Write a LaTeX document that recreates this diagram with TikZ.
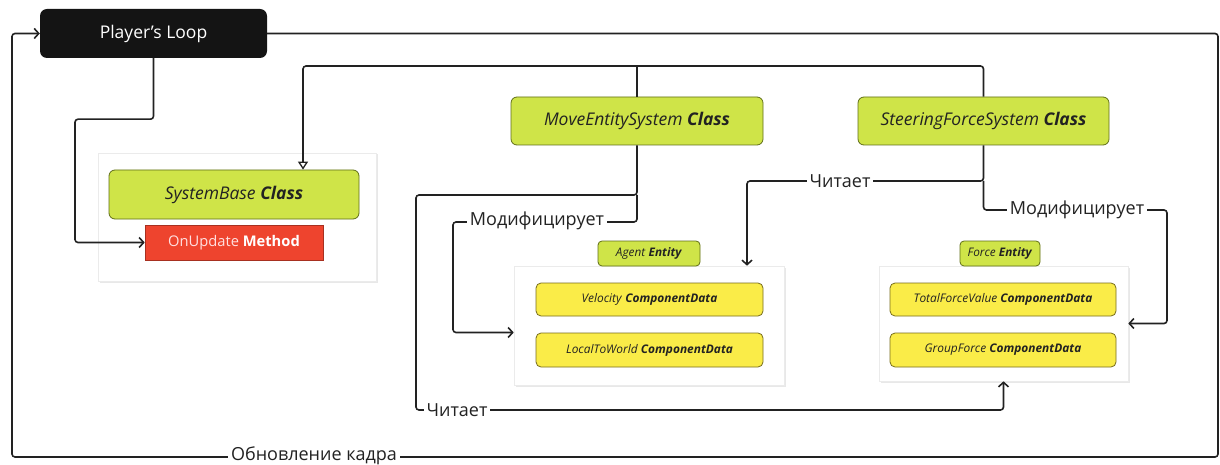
\documentclass[tikz,border=0pt]{standalone}
\usepackage{fontspec}
\setmainfont{Open Sans}
\usetikzlibrary{arrows.meta,shadows}

\definecolor{lime}{RGB}{207,228,72}
\definecolor{limeedge}{RGB}{96,110,24}
\definecolor{compyellow}{RGB}{250,236,72}
\definecolor{compedge}{RGB}{120,110,30}
\definecolor{methodred}{RGB}{238,68,46}
\definecolor{inkdark}{RGB}{34,34,34}

\tikzset{
  wire/.style={line width=1.6pt, draw=inkdark, rounded corners=3pt},
  arr/.style={wire, -{Straight Barb[length=4.5pt,width=10pt,line width=1.6pt]}},
  inh/.style={wire, -{Triangle[open,length=8pt,width=10pt,line width=1.3pt,fill=white]}},
  holder/.style={draw=black!8, fill=white, line width=0.6pt,
    drop shadow={opacity=0.18, shadow xshift=1.5pt, shadow yshift=-1.5pt}},
  classbox/.style={draw=limeedge, fill=lime, rounded corners=6pt, line width=0.8pt,
    text=inkdark, font=\fontsize{17.5}{20}\selectfont},
  entitybox/.style={draw=limeedge, fill=lime, rounded corners=4pt, line width=0.8pt,
    text=inkdark, font=\fontsize{11.8}{14}\selectfont},
  compbox/.style={draw=compedge, fill=compyellow, rounded corners=5pt, line width=0.8pt,
    text=inkdark, font=\fontsize{11.9}{14}\selectfont},
  wirelabel/.style={fill=white, inner xsep=3pt, inner ysep=1pt, text=inkdark,
    font=\fontsize{18}{21}\selectfont},
}

\begin{document}
\begin{tikzpicture}[x=1pt,y=-1pt]
\useasboundingbox (0,0) rectangle (1220,465);

% --- top-level loop node ---
\node[fill=black!92, rounded corners=7pt, minimum width=227pt, minimum height=49pt,
      text=white, font=\fontsize{17.5}{20}\selectfont] (loop) at (153.5,33.5) {Player's Loop};

% --- base system ---
\node[holder, minimum width=278pt, minimum height=128pt] (basebox) at (237,217) {};
\node[classbox, minimum width=250pt, minimum height=49pt] (sysbase) at (234,194.5)
  {\textit{SystemBase} \textbf{\textit{Class}}};
\node[fill=methodred, draw=methodred!70!black, line width=0.6pt, minimum width=178pt, minimum height=35pt,
      text=white, font=\fontsize{14.7}{17}\selectfont] (onupd) at (234,242.5)
  {\textcolor{red!12}{OnUpdate} \textbf{Method}};

% --- derived systems ---
\node[classbox, minimum width=252pt, minimum height=48pt] (move) at (637,121)
  {\textit{MoveEntitySystem} \textbf{\textit{Class}}};
\node[classbox, minimum width=251pt, minimum height=48pt] (steer) at (983.5,121)
  {\textit{SteeringForceSystem} \textbf{\textit{Class}}};

% --- Agent entity ---
\node[holder, minimum width=270pt, minimum height=119pt] (agentbox) at (649,325.5) {};
\node[entitybox, minimum width=102pt, minimum height=25pt] (agent) at (649,253.5)
  {\textit{Agent} \textbf{\textit{Entity}}};
\node[compbox, minimum width=227pt, minimum height=33pt] (velocity) at (649.5,299.5)
  {\textit{Velocity} \textbf{\textit{ComponentData}}};
\node[compbox, minimum width=227pt, minimum height=34pt] (l2w) at (649.5,350)
  {\textit{LocalToWorld} \textbf{\textit{ComponentData}}};

% --- Force entity ---
\node[holder, minimum width=249pt, minimum height=115pt] (forcebox) at (1003.5,323.5) {};
\node[entitybox, minimum width=80pt, minimum height=25pt] (force) at (1000,253.5)
  {\textit{Force} \textbf{\textit{Entity}}};
\node[compbox, minimum width=226pt, minimum height=33pt] (total) at (1003,299.5)
  {\textit{TotalForceValue} \textbf{\textit{ComponentData}}};
\node[compbox, minimum width=226pt, minimum height=34pt] (group) at (1003,350)
  {\textit{GroupForce} \textbf{\textit{ComponentData}}};

% --- routing points ---
\coordinate (inhx) at (303,66);
\coordinate (mvsplit) at (416,195);
\coordinate (rdL) at (416,410);
\coordinate (mdL) at (453,222);
\coordinate (rdR) at (747,181);
\coordinate (mdR) at (1167,210);

% --- connectors ---
% frame update loop
\draw[arr] (loop.east) -| (1218,457) -| (12,33.5) -- (loop.west);
% loop calls OnUpdate
\draw[arr] (loop.south) -- ++(0,61) -| (75,242.5) -- (onupd.west);
% inheritance from SystemBase
\draw[inh] (steer.north) |- (inhx) -- (sysbase.north -| inhx);
\draw[wire] (move.north) -- (move.north |- inhx);
% MoveEntitySystem reads Force, modifies Agent
\draw[arr] (move.south) -- (move.south |- mvsplit) -| (rdL) -| (forcebox.south);
\draw[arr] (move.south |- mvsplit) |- (mdL) |- ([yshift=-7pt]agentbox.west);
% SteeringForceSystem reads Agent, modifies Force
\draw[arr] (steer.south) |- (rdR) -- (agentbox.north -| rdR);
\draw[arr] (steer.south |- rdR) |- (mdR) |- (forcebox.east);

% --- connector labels ---
\node[wirelabel] (lblupd) at (314,456) {Обновление кадра};
\node[wirelabel] (lblrdL) at (457,410) {Читает};
\node[wirelabel] (lblmdL) at (537,221) {Модифицирует};
\node[wirelabel] (lblrdR) at (840,181) {Читает};
\node[wirelabel] (lblmdR) at (1077,210) {Модифицирует};
\end{tikzpicture}
\end{document}
